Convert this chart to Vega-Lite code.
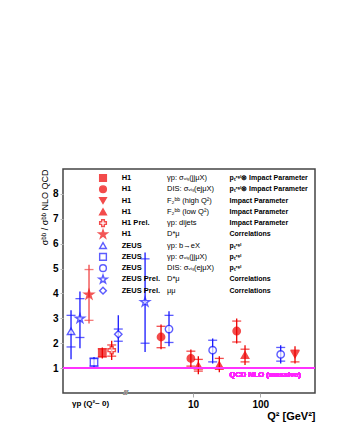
{
  "$schema": "https://vega.github.io/schema/vega-lite/v6.json",
  "width": 252,
  "height": 224,
  "autosize": "none",
  "padding": {"left": 63, "top": 169, "right": 25, "bottom": 45},
  "background": "white",
  "config": {
    "font": "Liberation Sans",
    "view": {"stroke": "#444", "strokeWidth": 1.5},
    "axis": {"grid": false, "domain": false, "labelColor": "black", "titleColor": "black", "labelBound": false, "labelFlush": false},
    "axisY": {"labelOverlap": false}
  },
  "datasets": {
    "pts": [
      {"series": "s7", "q2": 0.154, "val": 2.48, "stat_lo": 1.85, "stat_hi": 3.12, "tot_lo": 1.36, "tot_hi": 3.32},
      {"series": "s10", "q2": 0.209, "val": 2.99, "stat_lo": 2.23, "stat_hi": 3.79, "tot_lo": 1.80, "tot_hi": 4.08},
      {"series": "s6", "q2": 0.285, "val": 3.95, "stat_lo": 2.92, "stat_hi": 4.96, "tot_lo": 2.79, "tot_hi": 5.15},
      {"series": "s8", "q2": 0.338, "val": 1.24, "stat_lo": 1.08, "stat_hi": 1.40, "tot_lo": 1.01, "tot_hi": 1.45},
      {"series": "s1", "q2": 0.449, "val": 1.61, "stat_lo": 1.45, "stat_hi": 1.78, "tot_lo": 1.39, "tot_hi": 1.83},
      {"series": "s5", "q2": 0.619, "val": 1.72, "stat_lo": 1.48, "stat_hi": 1.93, "tot_lo": 1.33, "tot_hi": 2.10},
      {"series": "s11", "q2": 0.776, "val": 2.36, "stat_lo": 2.08, "stat_hi": 2.57, "tot_lo": 1.62, "tot_hi": 3.12},
      {"series": "s10", "q2": 1.94, "val": 3.65, "stat_lo": 2.00, "stat_hi": 5.39, "tot_lo": 1.65, "tot_hi": 5.65},
      {"series": "s2", "q2": 3.35, "val": 2.25, "stat_lo": 1.82, "stat_hi": 2.68, "tot_lo": 1.76, "tot_hi": 2.75},
      {"series": "s9", "q2": 4.4, "val": 2.57, "stat_lo": 2.03, "stat_hi": 3.12, "tot_lo": 1.88, "tot_hi": 3.28},
      {"series": "s2", "q2": 9.3, "val": 1.39, "stat_lo": 1.08, "stat_hi": 1.68, "tot_lo": 1.03, "tot_hi": 1.75},
      {"series": "s4", "q2": 12.0, "val": 1.09, "stat_lo": 0.88, "stat_hi": 1.35, "tot_lo": 0.75, "tot_hi": 1.48},
      {"series": "s9", "q2": 19.6, "val": 1.72, "stat_lo": 1.25, "stat_hi": 2.12, "tot_lo": 1.19, "tot_hi": 2.19},
      {"series": "s4", "q2": 24.6, "val": 1.12, "stat_lo": 0.95, "stat_hi": 1.39, "tot_lo": 0.83, "tot_hi": 1.48},
      {"series": "s2", "q2": 44.6, "val": 2.49, "stat_lo": 2.05, "stat_hi": 2.89, "tot_lo": 1.99, "tot_hi": 2.99},
      {"series": "s4", "q2": 59.3, "val": 1.52, "stat_lo": 1.25, "stat_hi": 1.76, "tot_lo": 1.12, "tot_hi": 1.92},
      {"series": "s9", "q2": 201, "val": 1.55, "stat_lo": 1.28, "stat_hi": 1.83, "tot_lo": 1.19, "tot_hi": 1.92},
      {"series": "s3", "q2": 328, "val": 1.55, "stat_lo": 1.25, "stat_hi": 1.72, "tot_lo": 1.19, "tot_hi": 1.88}
    ],
    "leg": [
      {"series": "s1", "exp": "H1", "process": "γp:  σᵥᵢₛ(jjμX)", "method": "pₜʳᵉˡ⊗ Impact Parameter"},
      {"series": "s2", "exp": "H1", "process": "DIS: σᵥᵢₛ(ejμX)", "method": "pₜʳᵉˡ⊗ Impact Parameter"},
      {"series": "s3", "exp": "H1", "process": "F₂ᵇᵇ (high Q²)", "method": "Impact Parameter"},
      {"series": "s4", "exp": "H1", "process": "F₂ᵇᵇ (low Q²)", "method": "Impact Parameter"},
      {"series": "s5", "exp": "H1 Prel.", "process": "γp: dijets", "method": "Impact Parameter"},
      {"series": "s6", "exp": "H1", "process": "D*μ", "method": "Correlations"},
      {"series": "s7", "exp": "ZEUS", "process": "γp:  b→eX", "method": "pₜʳᵉˡ"},
      {"series": "s8", "exp": "ZEUS", "process": "γp:  σᵥᵢₛ(jjμX)", "method": "pₜʳᵉˡ"},
      {"series": "s9", "exp": "ZEUS", "process": "DIS: σᵥᵢₛ(ejμX)", "method": "pₜʳᵉˡ"},
      {"series": "s10", "exp": "ZEUS  Prel.", "process": "D*μ", "method": "Correlations"},
      {"series": "s11", "exp": "ZEUS  Prel.", "process": "μμ", "method": "Correlations"}
    ]
  },
  "layer": [
    {
      "data": {"name": "pts"},
      "layer": [
        {
          "mark": {"type": "rule", "strokeWidth": 1.3},
          "encoding": {
            "x": {"field": "q2", "type": "quantitative",
                  "scale": {"type": "log", "domain": [0.117, 650], "nice": false},
                  "axis": {
                    "orient": "bottom",
                    "values": [0.295, 10, 100],
                    "tickCount": 10,
                    "labelExpr": "datum.value < 1 ? 'γp  (Q²~ 0)' : format(datum.value, 'd')",
                    "labelFontSize": {"condition": {"test": "datum.value < 1", "value": 8}, "value": 10},
                    "labelFontWeight": "bold",
                    "labelOverlap": false,
                    "tickOpacity": {"condition": {"test": "datum.value < 1", "value": 0}, "value": 1},
                    "tickColor": "#aaa",
                    "tickSize": 4,
                    "labelPadding": 2,
                    "title": "Q² [GeV²]",
                    "titleFontSize": 11,
                    "titleFontWeight": "bold",
                    "titleAnchor": "end",
                    "titlePadding": 1
                  }},
            "y": {"field": "tot_lo", "type": "quantitative",
                  "scale": {"domain": [0, 9], "nice": false, "zero": false},
                  "axis": {
                    "orient": "left",
                    "values": [1, 2, 3, 4, 5, 6, 7, 8],
                    "tickCount": 10,
                    "labelOverlap": false,
                    "labelFontSize": 10,
                    "labelFontWeight": "bold",
                    "tickColor": "#bbb",
                    "tickSize": 3,
                    "labelPadding": 2,
                    "title": "σᵇᵇ / σᵇᵇ NLO QCD",
                    "titleFontSize": 9,
                    "titleFontWeight": "normal",
                    "titleAnchor": "end",
                    "titlePadding": 3
                  }},
            "y2": {"field": "tot_hi"},
            "color": {"field": "series", "type": "nominal", "legend": null,
                      "scale": {"domain": ["s1","s2","s3","s4","s5","s6","s7","s8","s9","s10","s11"],
                                "range": ["#ee0000","#ee0000","#ee0000","#ee0000","#ee0000","#f04545","#1818ff","#1818ff","#1818ff","#1818ff","#1818ff"]}}
          }
        },
        {
          "mark": {"type": "tick", "orient": "horizontal", "size": 9, "thickness": 1.3},
          "encoding": {
            "x": {"field": "q2", "type": "quantitative"},
            "y": {"field": "stat_lo", "type": "quantitative"},
            "color": {"field": "series", "type": "nominal", "legend": null}
          }
        },
        {
          "mark": {"type": "tick", "orient": "horizontal", "size": 9, "thickness": 1.3},
          "encoding": {
            "x": {"field": "q2", "type": "quantitative"},
            "y": {"field": "stat_hi", "type": "quantitative"},
            "color": {"field": "series", "type": "nominal", "legend": null}
          }
        },
        {
          "mark": {"type": "point", "size": 55, "strokeWidth": 1.4},
          "encoding": {
            "x": {"field": "q2", "type": "quantitative"},
            "y": {"field": "val", "type": "quantitative"},
            "shape": {"field": "series", "type": "nominal", "legend": null,
                      "scale": {"domain": ["s1","s2","s3","s4","s5","s6","s7","s8","s9","s10","s11"],
                                "range": ["square","circle","triangle-down","triangle-up","cross","M0,-1.3L0.29,-0.4L1.24,-0.4L0.47,0.15L0.76,1.05L0,0.5L-0.76,1.05L-0.47,0.15L-1.24,-0.4L-0.29,-0.4Z","triangle-up","square","circle","M0,-1.3L0.29,-0.4L1.24,-0.4L0.47,0.15L0.76,1.05L0,0.5L-0.76,1.05L-0.47,0.15L-1.24,-0.4L-0.29,-0.4Z","diamond"]}},
            "fill": {"field": "series", "type": "nominal", "legend": null,
                     "scale": {"domain": ["s1","s2","s3","s4","s5","s6","s7","s8","s9","s10","s11"],
                               "range": ["#ee0000","#ee0000","#ee0000","#ee0000","white","#ee1010","white","white","white","white","white"]}},
            "stroke": {"field": "series", "type": "nominal", "legend": null,
                       "scale": {"domain": ["s1","s2","s3","s4","s5","s6","s7","s8","s9","s10","s11"],
                                 "range": ["#ee0000","#ee0000","#ee0000","#ee0000","#ee0000","#ee1010","#1818ff","#1818ff","#1818ff","#1818ff","#1818ff"]}}
          }
        },
        {
          "mark": {"type": "rule", "color": "#ff33ff", "strokeWidth": 1.5},
          "encoding": {"y": {"datum": 1}}
        },
        {
          "mark": {"type": "text", "text": "QCD NLO (massive)", "color": "#ff22ff", "fontSize": 7.5, "fontWeight": "bold", "align": "right", "baseline": "middle"},
          "encoding": {"x": {"datum": 400}, "y": {"datum": 0.74}}
        },
        {
          "mark": {"type": "text", "text": "//", "color": "#999", "fontSize": 8, "align": "center", "baseline": "middle"},
          "encoding": {"x": {"datum": 1.0}, "y": {"datum": 0}}
        }
      ]
    },
    {
      "data": {"name": "leg"},
      "layer": [
        {
          "mark": {"type": "point", "size": 45, "strokeWidth": 1.4},
          "encoding": {
            "x": {"datum": 0.46, "axis": null, "scale": {"type": "log", "domain": [0.117, 650], "nice": false}},
            "y": {"field": "series", "type": "nominal", "axis": null,
                  "scale": {"type": "point", "domain": ["s1","s2","s3","s4","s5","s6","s7","s8","s9","s10","s11"], "range": [9, 121.7], "padding": 0}},
            "shape": {"field": "series", "type": "nominal", "legend": null},
            "fill": {"field": "series", "type": "nominal", "legend": null},
            "stroke": {"field": "series", "type": "nominal", "legend": null}
          }
        },
        {
          "mark": {"type": "text", "fontSize": 7.5, "fontWeight": "bold", "align": "left", "baseline": "middle"},
          "encoding": {"x": {"datum": 0.872, "axis": null}, "y": {"field": "series", "type": "nominal", "axis": null}, "text": {"field": "exp"}}
        },
        {
          "mark": {"type": "text", "fontSize": 7.5, "align": "left", "baseline": "middle"},
          "encoding": {"x": {"datum": 4.11, "axis": null}, "y": {"field": "series", "type": "nominal", "axis": null}, "text": {"field": "process"}}
        },
        {
          "mark": {"type": "text", "fontSize": 7, "fontWeight": "bold", "align": "left", "baseline": "middle"},
          "encoding": {"x": {"datum": 34.85, "axis": null}, "y": {"field": "series", "type": "nominal", "axis": null}, "text": {"field": "method"}}
        }
      ]
    }
  ],
  "resolve": {"scale": {"x": "independent", "y": "independent"}}
}
